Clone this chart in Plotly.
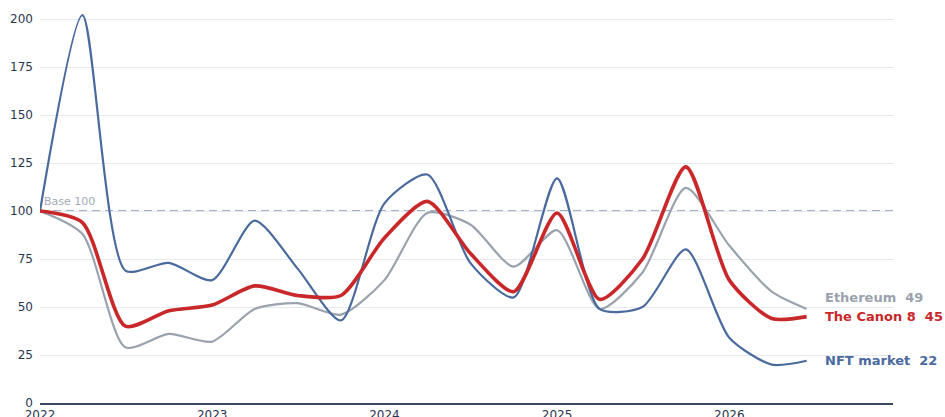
import plotly.graph_objects as go

dates = ["2022-01-01", "2022-04-01", "2022-07-01", "2022-10-01",
         "2023-01-01", "2023-04-01", "2023-07-01", "2023-10-01",
         "2024-01-01", "2024-04-01", "2024-07-01", "2024-10-01",
         "2025-01-01", "2025-04-01", "2025-07-01", "2025-10-01",
         "2026-01-01", "2026-04-01", "2026-06-14"]

nft = [100, 202, 69, 73, 64, 95, 70, 43, 104, 119, 73, 55, 117, 49, 50, 80, 34, 20, 22]
canon = [100, 94, 40, 48, 51, 61, 56, 56, 86, 105, 78, 58, 99, 54, 75, 123, 64, 44, 45]
eth = [100, 88, 29, 36, 32, 49, 52, 46, 64, 99, 93, 71, 90, 49, 68, 112, 82, 58, 49]

names = ["Ethereum", "The Canon 8", "NFT market"]
label_y = [55.2, 45.3, 21.9]

C_BLUE = "#4a6a9e"
C_RED = "#c8282a"
C_GRAY = "#9aa2ae"
SMOOTH = 0.7

fig = go.Figure()
fig.add_trace(go.Scatter(x=dates, y=eth, mode="lines",
                         line=dict(color=C_GRAY, width=2.2, shape="spline", smoothing=SMOOTH),
                         name="Ethereum", hoverinfo="skip", cliponaxis=False))
fig.add_trace(go.Scatter(x=dates, y=nft, mode="lines",
                         line=dict(color=C_BLUE, width=2.2, shape="spline", smoothing=SMOOTH),
                         name="NFT market", hoverinfo="skip", cliponaxis=False))
fig.add_trace(go.Scatter(x=dates, y=canon, mode="lines",
                         line=dict(color=C_RED, width=3.6, shape="spline", smoothing=SMOOTH),
                         name="The Canon 8", hoverinfo="skip", cliponaxis=False))

fig.add_shape(type="line", xref="paper", x0=0, x1=1, yref="y", y0=100, y1=100,
              line=dict(color="#8795ad", width=1.4, dash="8px,5px"), layer="between")

fig.add_annotation(xref="paper", x=0.002, y=100, yref="y", text="Base 100", showarrow=False,
                   xanchor="left", yanchor="bottom", yshift=1,
                   font=dict(family="DejaVu Sans", size=11, color="#a3aab6"))

finals = [eth[-1], canon[-1], nft[-1]]
colors = [C_GRAY, C_RED, C_BLUE]
for nm, v, ly, c in zip(names, finals, label_y, colors):
    fig.add_annotation(xref="paper", x=0.918, y=ly, yref="y", text=f"<b>{nm}  {v}</b>",
                       showarrow=False, xanchor="left", yanchor="middle",
                       font=dict(family="DejaVu Sans", size=13, color=c))

fig.update_layout(
    width=945, height=417,
    margin=dict(l=40, r=52, t=10, b=14),
    paper_bgcolor="white", plot_bgcolor="white",
    showlegend=False,
    font=dict(family="DejaVu Sans", size=12, color="#2a3550"),
)
fig.update_xaxes(type="date", range=["2022-01-01", "2026-12-14"], dtick="M12", tickformat="%Y",
                 showgrid=False, showline=True, linecolor="#3d4963", linewidth=2,
                 zeroline=False, ticks="", automargin=False, ticklabelstandoff=0,
                 tickfont=dict(size=12, color="#2a3550"))
fig.update_yaxes(range=[0, 204.7], dtick=25, showgrid=True, gridcolor="#e6e9ee", gridwidth=1,
                 zeroline=False, showline=False, ticks="", automargin=False, ticklabelstandoff=6,
                 tickfont=dict(size=12, color="#2a3550"))

fig.write_html("out.html")
